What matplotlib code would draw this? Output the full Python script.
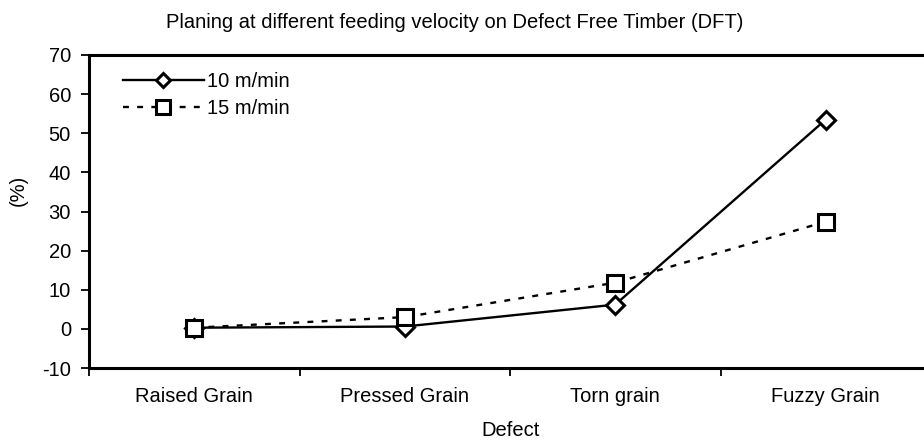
import matplotlib
matplotlib.use("Agg")
import matplotlib.pyplot as plt

categories = ["Raised Grain", "Pressed Grain", "Torn grain", "Fuzzy Grain"]
v10 = [0.3, 0.6, 6.2, 53.5]
v15 = [0.3, 3.0, 11.8, 27.4]
yticks = [-10, 0, 10, 20, 30, 40, 50, 60, 70]

plt.rcParams['font.family'] = ['Liberation Sans', 'DejaVu Sans']
FS = 14.5

W, H = 924, 441
fig = plt.figure(figsize=(W/100, H/100), dpi=100)
left, right, top, bottom = 89, 931, 55, 368
ax = fig.add_axes([left/W, 1-bottom/H, (right-left)/W, (bottom-top)/H])

x = list(range(len(categories)))
ax.plot(x, v10, color='black', lw=1.7, marker='D', ms=9, mfc='white',
        mec='black', mew=2.2, label='10 m/min', zorder=2)
ax.plot(x, v15, color='black', lw=1.7, ls=(0, (2.5, 3.5)), marker='s', ms=12,
        mfc='white', mec='black', mew=2.2, label='15 m/min', zorder=3)

ax.set_xlim(-0.5, 3.5)
ax.set_ylim(-10, 70)
ax.set_yticks(yticks)
ax.set_yticklabels([str(t) for t in yticks], fontsize=FS)
ax.set_xticks([-0.5, 0.5, 1.5, 2.5, 3.5])
ax.set_xticklabels([])
ax.set_xticks(x, minor=True)
ax.set_xticklabels(categories, minor=True, fontsize=FS)
ax.tick_params(axis='x', which='minor', length=0, pad=14)
ax.tick_params(axis='x', which='major', length=6, width=1.3, direction='out')
ax.tick_params(axis='y', length=6, width=1.3, direction='out', pad=7)
for s in ax.spines.values():
    s.set_linewidth(2.2)

pw, ph = right - left, bottom - top
ax.set_xlabel("Defect", fontsize=FS)
ax.xaxis.label.set_va('center')
ax.xaxis.set_label_coords((511 - left) / pw, (bottom - 430) / ph)
ax.set_ylabel("(%)", fontsize=FS)
ax.yaxis.label.set_va('center')
ax.yaxis.set_label_coords((18 - left) / pw, (bottom - 190) / ph)

fig.text(455/W, 1-22/H, "Planing at different feeding velocity on Defect Free Timber (DFT)",
         ha='center', va='center', fontsize=FS)

leg = ax.legend(loc='upper left', bbox_to_anchor=((123-left)/pw, (bottom-72)/ph),
                frameon=False, borderpad=0, borderaxespad=0,
                fontsize=FS, handlelength=4.0, handletextpad=0.15, labelspacing=0.4,
                markerscale=0.8)

fig.savefig("out.png", dpi=100)
